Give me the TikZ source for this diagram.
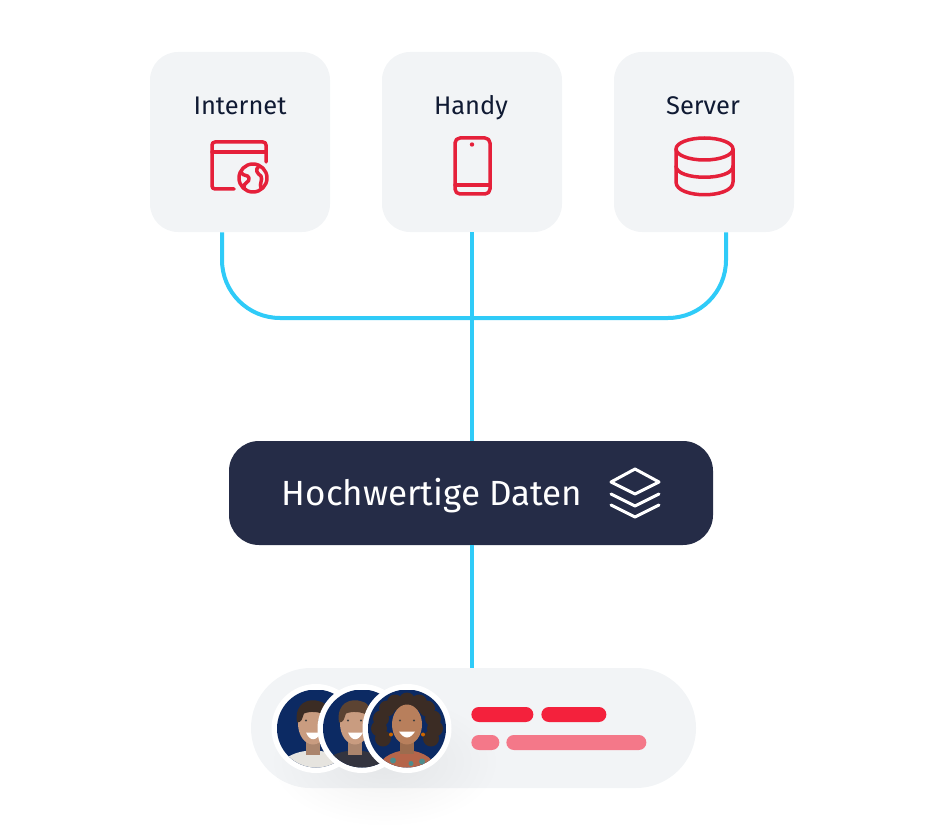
\documentclass[tikz,border=0pt]{standalone}
\usepackage{fontspec}
\setmainfont{Fira Sans}
\usetikzlibrary{calc}
\definecolor{boxgray}{HTML}{F2F4F6}
\definecolor{hubnavy}{HTML}{252C47}
\definecolor{linkblue}{HTML}{2FCBF8}
\definecolor{iconred}{HTML}{E5203A}
\definecolor{barred}{HTML}{F4213C}
\definecolor{barpink}{HTML}{F47889}
\definecolor{labelink}{HTML}{101A33}
\definecolor{photonavy}{HTML}{0C2A63}
\definecolor{skinpale}{HTML}{C99C80}
\definecolor{skinwarm}{HTML}{B87F5C}
\definecolor{hairdark}{HTML}{3B2C24}
\definecolor{hairbrown}{HTML}{5C4332}
\definecolor{shirtpale}{HTML}{E6E4DF}
\definecolor{shirtdark}{HTML}{33343F}
\definecolor{shirtrust}{HTML}{B5654A}
\definecolor{shirtteal}{HTML}{4E8C8C}
\newcommand{\mandraw}[5]{%
	\begin{scope}[shift={(#1,728.5)}]
	\fill [white] (0,0) circle (44.5);
	\clip (0,0) circle (39);
	\fill [photonavy] (-39,-39) rectangle (39,39);
	\fill [#4] (#5,42) ellipse (34 and 20);
	\fill [#2!85!black] (#5-7,5) rectangle (#5+7,26);
	\fill [#2] (#5,-5) ellipse (15 and 21);
	\fill [#3] (#5-16,-6) .. controls (#5-19,-26) and (#5-4,-31) .. (#5+7,-27) .. controls (#5+15,-25) and (#5+17,-17) .. (#5+15,-12) .. controls (#5+6,-18) and (#5-4,-17) .. (#5-9,-15) .. controls (#5-11,-10) and (#5-11,-6) .. (#5-16,-6) -- cycle;
	\fill [white] (#5-7,4) .. controls (#5-3,13) and (#5+3,13) .. (#5+8,4) -- cycle;
	\fill [black!75] (#5-7,-8) circle (1.2) (#5+6,-8) circle (1.2);
	\end{scope}}
\begin{document}
\begin{tikzpicture}[x=0.2mm,y=-0.2mm]
	\tikzstyle{box} = [fill=boxgray, rounded corners=5.6mm, minimum size=3.6cm, inner sep=0]
	\tikzstyle{boxlabel} = [text=labelink, anchor=base, font=\fontsize{14.5pt}{17pt}\selectfont]
	\tikzstyle{link} = [draw=linkblue, line width=0.8mm]
	\tikzstyle{icon} = [draw=iconred, line width=0.7mm, line join=round, line cap=round]
	\tikzstyle{hubicon} = [draw=white, line width=0.6mm, line join=round, line cap=round]
	\tikzstyle{bar} = [rounded corners=1.5mm, minimum height=3mm, inner sep=0, anchor=west]

	\useasboundingbox (0,0) rectangle (944,840);

	\node [box] (internet) at (240,142) {};
	\node [box] (handy) at (472,142) {};
	\node [box] (server) at (704,142) {};
	\node [fill=hubnavy, rounded corners=6mm, minimum width=9.68cm, minimum height=2.08cm, inner sep=0] (hub) at (471,493) {};
	\node [fill=boxgray, rounded corners=12mm, minimum width=8.9cm, minimum height=2.4cm, inner sep=0] (team) at (473.5,728) {};
	\coordinate (joint) at (472,318);

	\draw [link, rounded corners=11.6mm] ([xshift=-3.6mm]internet.south) |- (joint);
	\draw [link, rounded corners=11.6mm] ([xshift=4.4mm]server.south) |- (joint);
	\draw [link] (handy.south) -- (hub.north -| handy.south);
	\draw [link] (hub.south -| handy.south) -- (team.north -| handy.south);

	\node [boxlabel] (internet_label) at (240,115) {Internet};
	\node [boxlabel] (handy_label) at (471,115) {Handy};
	\node [boxlabel] (server_label) at (703,115) {Server};
	\node [text=white, anchor=base, font=\fontsize{19.9pt}{24pt}\selectfont] (hub_label) at (432,505) {Hochwertige Daten};

	\draw [icon, rounded corners=0.6mm] (234,189) -- (212,189) -- (212,142) -- (266,142) -- (266,162);
	\draw [icon] (212,152) -- (266,152);
	\draw [icon] (253,178) circle (14);
	\draw [icon] (244,188) .. controls (243,182) and (250,183) .. (249,178) .. controls (248,174) and (243,177) .. (241,172);
	\draw [icon] (259,166) .. controls (254,170) and (258,174) .. (261,176) .. controls (263,180) and (259,184) .. (261,188);

	\draw [icon, rounded corners=1mm] (455,138) rectangle (490,194);
	\draw [icon] (455,185) -- (490,185);
	\fill [iconred] (472,144.5) circle (2.2);

	\draw [icon] (704.5,149) ellipse (28.5 and 11);
	\draw [icon] (676,149) -- (676,182) .. controls (676,199) and (733,199) .. (733,182) -- (733,149);
	\draw [icon] (676,166) .. controls (676,181) and (733,181) .. (733,166);

	\draw [hubicon] (611,482) -- (635,469) -- (659,482) -- (635,494) -- cycle;
	\draw [hubicon] (611,494) -- (635,506) -- (659,494);
	\draw [hubicon] (611,505) -- (635,517) -- (659,505);

	\foreach \r in {1,...,12} {
		\fill [black, opacity=0.0045] (385,762) ellipse ({15+8*\r} and {8+4.6*\r});
	}

	\mandraw{316}{skinpale}{hairdark}{shirtpale}{-3}
	\mandraw{362}{skinpale}{hairbrown}{shirtdark}{-7}
	\begin{scope}[shift={(407,728.5)}]
	\fill [white] (0,0) circle (44.5);
	\clip (0,0) circle (39);
	\fill [photonavy] (-39,-39) rectangle (39,39);
	\foreach \a/\b in {-20/-20,-12/-26,0/-28,12/-26,20/-20,26/-10,28/0,24/10,-26/-10,-28/0,-24/10} {
		\fill [hairdark] (\a,\b) circle (8);
	}
	\fill [shirtrust] (0,44) ellipse (30 and 22);
	\fill [shirtteal] (-14,32) circle (3) (15,33) circle (3) (4,35) circle (2.5);
	\fill [skinwarm!85!black] (-7,8) rectangle (7,25);
	\fill [skinwarm] (0,-4) ellipse (15 and 20);
	\fill [white] (-8,3) .. controls (-3,11) and (3,11) .. (8,3) -- cycle;
	\fill [black!75] (-7,-8) circle (1.2) (7,-8) circle (1.2);
	\fill [orange!80!black] (-16,6) circle (2) (16,6) circle (2);
	\end{scope}

	\node [bar, fill=barred, minimum width=1.24cm] (bar_a) at (471,714.5) {};
	\node [bar, fill=barred, minimum width=1.3cm] (bar_b) at (541,714.5) {};
	\node [bar, fill=barpink, minimum width=0.56cm] (bar_c) at (471,742.5) {};
	\node [bar, fill=barpink, minimum width=2.8cm] (bar_d) at (506,742.5) {};
\end{tikzpicture}
\end{document}
